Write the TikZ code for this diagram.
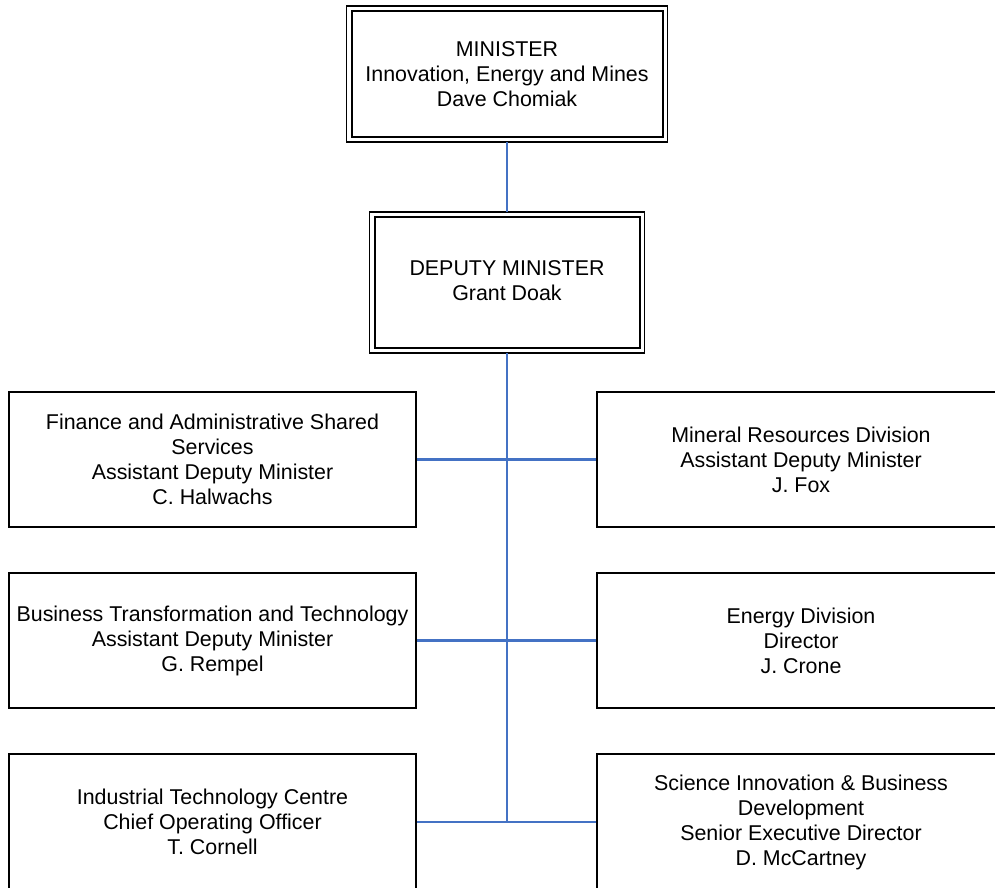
\documentclass[tikz,border=0pt]{standalone}
\usepackage{fontspec}
\setmainfont{Liberation Sans}
\definecolor{linkblue}{HTML}{4472C4}
\begin{document}
\begin{tikzpicture}[x=1pt,y=-1pt,
  orgbox/.style={draw=black,line width=1.6pt,rectangle,inner sep=0pt,align=center,
     font=\fontsize{21.4}{25}\selectfont,text=black},
  sidebox/.style={orgbox,minimum width=407pt},
  headbox/.style={orgbox,line width=2pt},
  outerframe/.style={draw=black,line width=1.2pt},
  link/.style={draw=linkblue,line width=2.2pt}]
\clip (0,0) rectangle (995,888);
\fill[white] (0,0) rectangle (995,888);
% top boxes
\node[headbox,minimum width=311pt,minimum height=126pt] (min) at (507,74)
  {MINISTER\\Innovation, Energy and Mines\\Dave Chomiak};
\draw[outerframe] ([xshift=-4pt,yshift=4pt]min.north west) rectangle ([xshift=4pt,yshift=-4pt]min.south east);
\node[headbox,minimum width=265pt,minimum height=131pt] (dep) at (507,282.5)
  {\raisebox{7pt}{\begin{tabular}{@{}c@{}}DEPUTY MINISTER\\Grant Doak\end{tabular}}};
\draw[outerframe] ([xshift=-4pt,yshift=4pt]dep.north west) rectangle ([xshift=4pt,yshift=-4pt]dep.south east);
% left column
\node[sidebox,minimum height=135pt] (fin) at (212.5,459.5)
  {Finance and Administrative Shared\\Services\\Assistant Deputy Minister\\C. Halwachs};
\node[sidebox,minimum height=135pt] (btt) at (212.5,640.5)
  {Business Transformation and Technology\\Assistant Deputy Minister\\G. Rempel};
\node[sidebox,minimum height=136pt] (itc) at (212.5,822)
  {Industrial Technology Centre\\Chief Operating Officer\\T. Cornell};
% right column
\node[sidebox,minimum width=408pt,minimum height=135pt] (mrd) at (801,459.5)
  {Mineral Resources Division\\Assistant Deputy Minister\\J. Fox};
\node[sidebox,minimum width=408pt,minimum height=135pt] (end) at (801,640.5)
  {Energy Division\\Director\\J. Crone};
\node[sidebox,minimum width=408pt,minimum height=136pt] (sib) at (801,822)
  {Science Innovation \& Business\\Development\\Senior Executive Director\\D. McCartney};
% connectors
\coordinate (mainbot) at (dep.south |- itc.east);
\draw[link] ([yshift=-4pt]min.south) -- ([yshift=4pt]dep.north);
\draw[link] ([yshift=-4pt]dep.south) -- (mainbot);
\draw[link] (fin.east) -- (mrd.west);
\draw[link] (btt.east) -- (end.west);
\draw[link] (itc.east) -- (sib.west);
\end{tikzpicture}
\end{document}
